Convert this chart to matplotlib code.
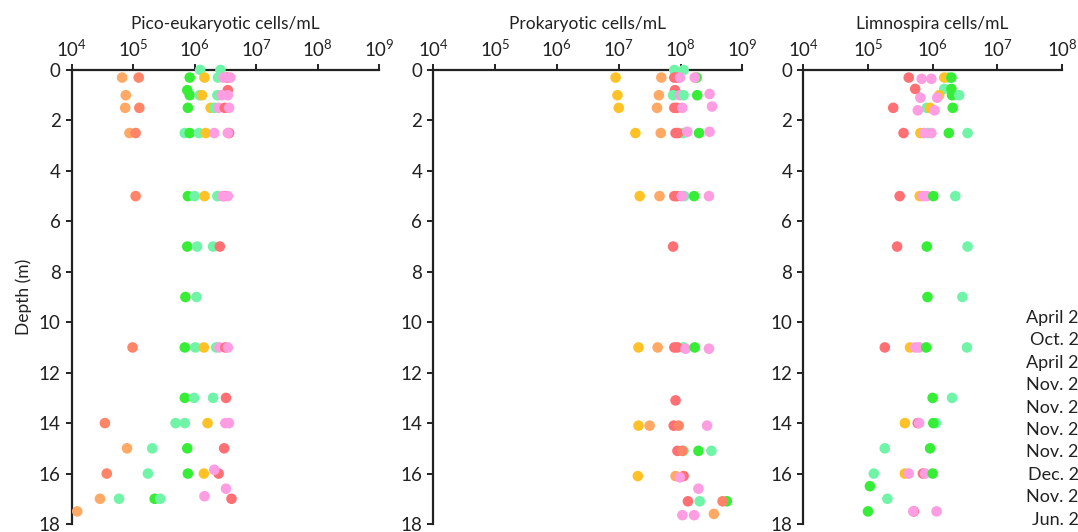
import numpy as np
import matplotlib.pyplot as plt

plt.rcParams['font.family'] = ['Lato', 'DejaVu Sans']
plt.rcParams['mathtext.fontset'] = 'custom'
plt.rcParams['mathtext.rm'] = 'Lato'

# colour groups: 0 red, 1 coral, 2 orange, 3 yellow, 4 green, 5 mint, 6 pink
group_colors = ['#ff6f74', '#ff8468', '#ffa964', '#ffc226', '#35ee35', '#70f5a8', '#ff9de2']

# sampling campaigns (legend, cut at the right edge in the original)
campaigns = ['April 2016', 'Oct. 2016', 'April 2017', 'Nov. 2017', 'Nov. 2018',
             'Nov. 2019', 'Nov. 2020', 'Dec. 2021', 'Nov. 2022', 'Jun. 2023']

# Pico-eukaryotic cells/mL  (depth m, log10 cells/mL, colour group)
pico_depth = [0, 0,
              0.3, 0.3, 0.3, 0.3, 0.3, 0.3, 0.3, 0.3,
              0.8, 0.8,
              1, 1, 1, 1, 1, 1, 1,
              1.5, 1.5, 1.5, 1.5, 1.5, 1.5, 1.5, 1.5,
              2.5, 2.5, 2.5, 2.5, 2.5, 2.5, 2.5, 2.5, 2.5,
              5, 5, 5, 5, 5, 5, 5, 5,
              7, 7, 7, 7,
              9, 9,
              11, 11, 11, 11, 11, 11, 11, 11,
              13, 13, 13, 13,
              14, 14, 14, 14, 14, 14,
              15, 15, 15, 15,
              16, 16, 16, 16, 16, 15.85,
              16.6,
              17, 17, 17, 17, 16.9, 17,
              17.5]
pico_log = [6.09, 6.42,
            4.82, 5.09, 5.92, 6.16, 6.38, 6.53, 6.47, 6.58,
            5.88, 6.54,
            4.88, 5.92, 6.08, 6.12, 6.37, 6.44, 6.54,
            4.87, 5.10, 5.89, 6.26, 6.32, 6.39, 6.49, 6.56,
            4.94, 5.04, 5.84, 5.92, 6.07, 6.18, 6.32, 6.56, 6.54,
            5.04, 5.89, 6.00, 6.16, 6.37, 6.48, 6.45, 6.54,
            5.88, 6.04, 6.30, 6.41,
            5.85, 6.03,
            4.99, 5.84, 6.01, 6.15, 6.35, 6.40, 6.50, 6.54,
            5.84, 5.99, 6.30, 6.51,
            4.54, 5.69, 5.84, 6.21, 6.50, 6.56,
            4.90, 5.31, 5.88, 6.48,
            4.57, 5.24, 5.89, 6.15, 6.39, 6.32,
            6.51,
            4.46, 4.77, 5.35, 5.44, 6.16, 6.60,
            4.09]
pico_group = [5, 5,
              2, 1, 4, 3, 5, 0, 6, 6,
              4, 0,
              2, 4, 5, 3, 5, 6, 6,
              2, 1, 4, 3, 5, 6, 0, 6,
              2, 1, 5, 4, 5, 3, 6, 0, 6,
              1, 4, 5, 3, 5, 0, 6, 6,
              4, 5, 5, 0,
              4, 5,
              1, 4, 5, 3, 5, 6, 0, 6,
              4, 5, 5, 0,
              1, 5, 5, 3, 6, 6,
              2, 5, 4, 0,
              1, 5, 4, 3, 0, 6,
              6,
              2, 5, 4, 5, 6, 0,
              2]

# Prokaryotic cells/mL
prok_depth = [0, 0,
              0.3, 0.3, 0.3, 0.3, 0.3, 0.3, 0.3,
              0.8,
              1, 1, 1, 1, 1, 1, 0.95,
              1.5, 1.5, 1.5, 1.5, 1.5, 1.45,
              2.5, 2.5, 2.5, 2.5, 2.5, 2.45, 2.5, 2.45,
              5, 5, 5, 5, 5, 5, 5, 5,
              7,
              11, 11, 11, 11, 11, 11.05, 11, 11.05,
              13.1,
              14.1, 14.1, 14.1, 14.1, 14.1,
              15.1, 15.1, 15.1, 15.1, 15.1,
              16.1, 16.1, 16.1, 16.15,
              16.6,
              17.1, 17.1, 17.1, 17.1,
              17.65, 17.65, 17.6]
prok_log = [7.90, 8.05,
            6.95, 7.69, 7.90, 7.95, 7.99, 8.26, 8.23,
            7.91,
            6.98, 7.65, 7.88, 7.99, 8.05, 8.27, 8.47,
            7.00, 7.62, 7.90, 7.94, 8.03, 8.51,
            7.27, 7.68, 8.04, 7.92, 7.96, 8.11, 8.30, 8.47,
            7.34, 7.66, 8.06, 7.90, 7.94, 8.02, 8.22, 8.46,
            7.88,
            7.32, 7.63, 8.05, 7.90, 7.95, 8.08, 8.23, 8.46,
            7.92,
            7.32, 7.50, 7.89, 7.97, 8.43,
            8.05, 7.95, 8.03, 8.29, 8.50,
            7.31, 7.92, 8.05, 7.99,
            8.29,
            8.12, 8.31, 8.75, 8.68,
            8.03, 8.22, 8.54]
prok_group = [5, 5,
              3, 2, 0, 0, 6, 4, 6,
              0,
              3, 2, 5, 6, 5, 4, 6,
              3, 2, 0, 0, 6, 6,
              3, 2, 5, 0, 0, 6, 4, 6,
              3, 2, 5, 0, 0, 6, 4, 6,
              0,
              3, 2, 5, 0, 0, 6, 4, 6,
              0,
              3, 2, 0, 1, 6,
              5, 0, 1, 4, 5,
              3, 2, 0, 6,
              6,
              0, 5, 4, 1,
              6, 6, 2]

# Limnospira cells/mL
limno_depth = [0.3, 0.35, 0.35, 0.3, 0.3, 0.3,
               0.75, 0.75, 0.75,
               1, 1, 1, 1.1, 1.1,
               1.5, 1.5, 1.5, 1.6, 1.6, 1.5,
               2.5, 2.5, 2.5, 2.5, 2.5, 2.5, 2.5,
               5, 5, 5, 5, 5, 5,
               7, 7, 7,
               9, 9,
               11, 11, 11, 11, 11, 11,
               13, 13,
               14, 14, 14, 14, 14,
               15, 15,
               16, 16, 16, 16, 16, 16,
               16.5,
               17,
               17.5, 17.5, 17.5, 17.5]
limno_log = [5.63, 5.83, 5.98, 6.24, 6.18, 6.29,
             5.73, 6.18, 6.29,
             6.10, 6.30, 6.41, 6.07, 5.81,
             5.39, 5.91, 5.96, 5.77, 6.03, 6.31,
             5.55, 5.81, 5.93, 5.87, 5.98, 6.25, 6.54,
             5.49, 5.80, 5.85, 5.91, 6.01, 6.35,
             5.45, 5.91, 6.54,
             5.92, 6.46,
             5.26, 5.65, 5.73, 5.79, 5.90, 6.53,
             6.00, 6.30,
             5.57, 5.77, 5.79, 6.05, 6.01,
             5.26, 5.96,
             5.09, 5.57, 5.63, 5.85, 5.88, 6.00,
             5.03,
             5.30,
             5.00, 5.71, 5.70, 6.06]
limno_group = [0, 6, 6, 5, 3, 4,
               0, 5, 4,
               3, 4, 5, 6, 6,
               0, 5, 3, 6, 6, 4,
               0, 3, 5, 6, 6, 4, 5,
               0, 3, 6, 6, 4, 5,
               0, 4, 5,
               4, 5,
               0, 3, 6, 6, 4, 5,
               4, 5,
               3, 0, 6, 5, 4,
               5, 4,
               5, 3, 6, 0, 6, 4,
               4,
               5,
               4, 0, 6, 6]

panels = [
    ('Pico-eukaryotic cells/mL', pico_depth, pico_log, pico_group, 9),
    ('Prokaryotic cells/mL', prok_depth, prok_log, prok_group, 9),
    ('Limnospira cells/mL', limno_depth, limno_log, limno_group, 8),
]

W, H = 1078, 532
fig = plt.figure(figsize=(W / 100, H / 100), dpi=100)

# axes boxes in pixels: left, right (top at 70, bottom at 524)
boxes = [(71.7, 379.0), (433.3, 742.3), (803.3, 1062.0)]

for i, ((title, depth, logv, grp, xmax), (x0, x1)) in enumerate(zip(panels, boxes)):
    ax = fig.add_axes([x0 / W, 1 - 524 / H, (x1 - x0) / W, 454 / H])
    vals = 10 ** np.array(logv)
    cols = [group_colors[g] for g in grp]
    ax.scatter(vals, depth, s=58, c=cols, edgecolors='none', zorder=3, clip_on=False)

    ax.set_xscale('log')
    ax.set_xlim(1e4, 10 ** xmax)
    ax.set_ylim(18, 0)
    ax.xaxis.set_ticks_position('top')
    ax.xaxis.set_label_position('top')
    ax.set_xticks([10 ** k for k in range(4, xmax + 1)])
    ax.xaxis.set_minor_locator(plt.NullLocator())
    ax.set_yticks(range(0, 19, 2))

    for side in ['bottom', 'right']:
        ax.spines[side].set_visible(False)
    for side in ['top', 'left']:
        ax.spines[side].set_linewidth(1.6)
        ax.spines[side].set_color('#222222')
    ax.tick_params(axis='both', length=4, width=1.4, color='#222222',
                   labelsize=13.5, labelcolor='#222222', pad=3)
    ax.tick_params(axis='y', labelsize=13.5, pad=4)

    ax.set_title(title, fontsize=12.5, color='#222222', pad=7)
    if i == 0:
        ax.set_ylabel('Depth (m)', fontsize=12.5, color='#222222', labelpad=5)

# legend labels, right-aligned and cut off by the figure edge
for j, lab in enumerate(campaigns):
    fig.text(1110 / W, 1 - (318 + j * 22.4) / H, lab, ha='right', va='center',
             fontsize=13, color='#222222')

fig.savefig('out.png', dpi=100)
